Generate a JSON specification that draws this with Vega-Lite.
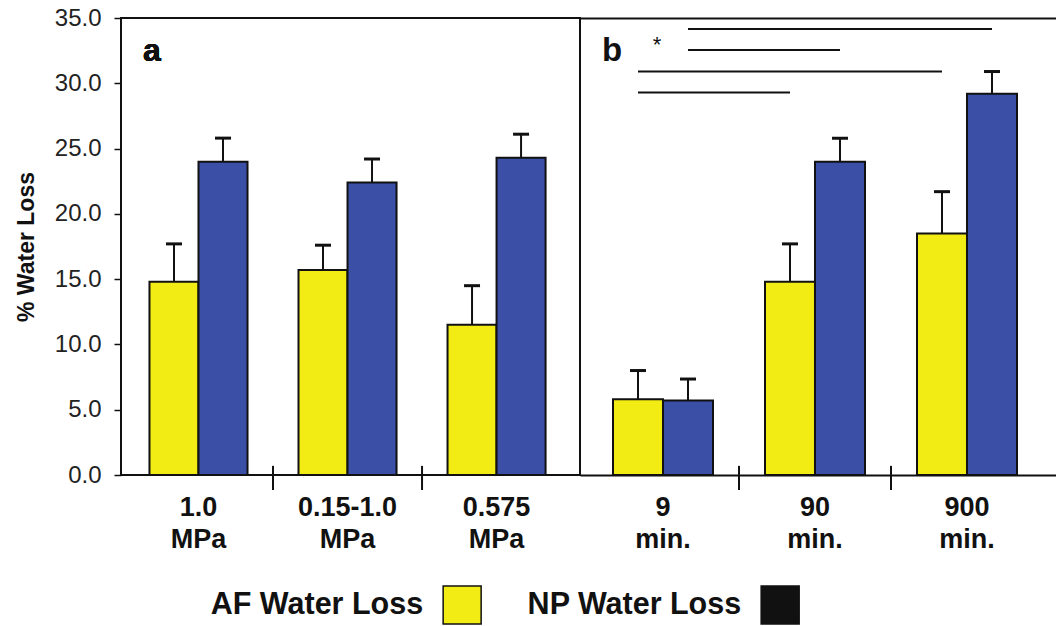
{
  "$schema": "https://vega.github.io/schema/vega-lite/v6.json",
  "padding": {"left": 14, "top": 5, "right": 0, "bottom": 0},
  "background": "white",
  "config": {
    "font": "Liberation Sans",
    "view": {"stroke": "#111111", "strokeWidth": 2},
    "axis": {"labelFont": "Liberation Sans", "titleFont": "Liberation Sans", "grid": false}
  },
  "datasets": {
    "barsA": [
      {"group": "1.0 MPa", "series": "AF", "value": 14.8, "upper": 17.7},
      {"group": "1.0 MPa", "series": "NP", "value": 24.0, "upper": 25.8},
      {"group": "0.15-1.0 MPa", "series": "AF", "value": 15.7, "upper": 17.6},
      {"group": "0.15-1.0 MPa", "series": "NP", "value": 22.4, "upper": 24.2},
      {"group": "0.575 MPa", "series": "AF", "value": 11.5, "upper": 14.5},
      {"group": "0.575 MPa", "series": "NP", "value": 24.3, "upper": 26.1}
    ],
    "barsB": [
      {"group": "9 min.", "series": "AF", "value": 5.8, "upper": 8.0},
      {"group": "9 min.", "series": "NP", "value": 5.7, "upper": 7.35},
      {"group": "90 min.", "series": "AF", "value": 14.8, "upper": 17.7},
      {"group": "90 min.", "series": "NP", "value": 24.0, "upper": 25.8},
      {"group": "900 min.", "series": "AF", "value": 18.5, "upper": 21.7},
      {"group": "900 min.", "series": "NP", "value": 29.2, "upper": 30.9}
    ],
    "sig": [
      {"pair": "p1", "group": "9 min.", "series": "NP", "level": 34.15},
      {"pair": "p1", "group": "900 min.", "series": "NP", "level": 34.15},
      {"pair": "p2", "group": "9 min.", "series": "NP", "level": 32.55},
      {"pair": "p2", "group": "90 min.", "series": "NP", "level": 32.55},
      {"pair": "p3", "group": "9 min.", "series": "AF", "level": 30.9},
      {"pair": "p3", "group": "900 min.", "series": "AF", "level": 30.9},
      {"pair": "p4", "group": "9 min.", "series": "AF", "level": 29.3},
      {"pair": "p4", "group": "90 min.", "series": "AF", "level": 29.3}
    ],
    "star": [
      {"group": "9 min.", "level": 32.4, "label": "*"}
    ],
    "legend": [
      {"series": "AF", "item": "AF Water Loss"},
      {"series": "NP", "item": "NP Water Loss"}
    ]
  },
  "resolve": {"scale": {"color": "independent", "fill": "independent"}},
  "spacing": 30,
  "vconcat": [
    {
      "spacing": 0,
      "bounds": "flush",
      "resolve": {"scale": {"xOffset": "independent", "x": "independent", "y": "independent"}},
      "hconcat": [
        {
          "width": 459,
          "height": 457,
          "data": {"name": "barsA"},
          "resolve": {"axis": {"x": "independent", "y": "independent"}},
          "layer": [
            {
              "mark": {"type": "bar", "stroke": "#111111", "strokeWidth": 2},
              "encoding": {
                "x": {"field": "group", "type": "nominal", "sort": null,
                  "scale": {"type": "band", "domain": ["1.0 MPa", "0.15-1.0 MPa", "0.575 MPa"], "paddingInner": 0, "paddingOuter": 0.04, "align": 0.25},
                  "axis": {"title": null, "domain": false, "ticks": false, "labelAngle": 0, "labelOverlap": false, "labelExpr": "split(datum.label, ' ')", "labelFontSize": 27, "labelFontWeight": "bold", "labelColor": "#111111", "labelLineHeight": 32, "labelPadding": 19}},
                "xOffset": {"field": "series", "type": "nominal", "scale": {"domain": ["AF", "NP"], "paddingInner": 0, "paddingOuter": 0.52}},
                "y": {"field": "value", "type": "quantitative",
                  "scale": {"domain": [0, 35], "nice": false},
                  "axis": {"values": [0, 5, 10, 15, 20, 25, 30, 35], "format": ".1f", "labelFontSize": 24, "labelColor": "#222222", "tickSize": 7, "tickColor": "#111111", "tickWidth": 1.5, "domain": false, "labelPadding": 13, "title": "% Water Loss", "titleFontSize": 23, "titleFontWeight": "bold", "titleColor": "#111111", "titlePadding": 16}},
                "color": {"field": "series", "type": "nominal", "scale": {"domain": ["AF", "NP"], "range": ["#F2EB14", "#3B4FA6"]}, "legend": null}
              }
            },
            {
              "mark": {"type": "rule", "stroke": "#111111", "strokeWidth": 2},
              "encoding": {
                "x": {"field": "group", "type": "nominal", "axis": null},
                "xOffset": {"field": "series", "type": "nominal"},
                "y": {"field": "value", "type": "quantitative", "axis": null},
                "y2": {"field": "upper"}
              }
            },
            {
              "mark": {"type": "tick", "color": "#111111", "orient": "horizontal", "size": 16, "thickness": 3, "opacity": 1},
              "encoding": {
                "x": {"field": "group", "type": "nominal", "axis": null},
                "xOffset": {"field": "series", "type": "nominal"},
                "y": {"field": "upper", "type": "quantitative", "axis": null}
              }
            },
            {
              "transform": [{"filter": "datum.series == 'AF' && datum.group != '1.0 MPa'"}],
              "mark": {"type": "rule", "stroke": "#111111", "strokeWidth": 2},
              "encoding": {
                "x": {"field": "group", "type": "nominal", "bandPosition": 0, "axis": null},
                "y": {"datum": -1.15, "type": "quantitative", "axis": null},
                "y2": {"datum": 0.7}
              }
            },
            {
              "mark": {"type": "text", "text": "a", "fontSize": 32, "fontWeight": "bold", "color": "#111111", "align": "left", "baseline": "alphabetic", "dx": 19},
              "encoding": {
                "x": {"datum": "1.0 MPa", "type": "nominal", "bandPosition": 0, "axis": null},
                "y": {"datum": 31.7, "type": "quantitative", "axis": null}
              }
            }
          ]
        },
        {
          "width": 476,
          "height": 457,
          "view": {"stroke": null},
          "resolve": {"axis": {"x": "independent", "y": "independent"}},
          "layer": [
            {
              "data": {"name": "barsB"},
              "mark": {"type": "bar", "stroke": "#111111", "strokeWidth": 2},
              "encoding": {
                "x": {"field": "group", "type": "nominal", "sort": null,
                  "scale": {"type": "band", "domain": ["9 min.", "90 min.", "900 min."], "paddingInner": 0, "paddingOuter": 0.0658, "align": 0.35},
                  "axis": {"title": null, "domain": true, "domainColor": "#111111", "domainWidth": 2, "ticks": false, "labelAngle": 0, "labelOverlap": false, "labelExpr": "split(datum.label, ' ')", "labelFontSize": 27, "labelFontWeight": "bold", "labelColor": "#111111", "labelLineHeight": 32, "labelPadding": 19}},
                "xOffset": {"field": "series", "type": "nominal", "scale": {"domain": ["AF", "NP"], "paddingInner": 0, "paddingOuter": 0.52}},
                "y": {"field": "value", "type": "quantitative", "scale": {"domain": [0, 35], "nice": false}, "axis": null},
                "color": {"field": "series", "type": "nominal", "scale": {"domain": ["AF", "NP"], "range": ["#F2EB14", "#3B4FA6"]}, "legend": null}
              }
            },
            {
              "data": {"name": "barsB"},
              "mark": {"type": "rule", "stroke": "#111111", "strokeWidth": 2},
              "encoding": {
                "x": {"field": "group", "type": "nominal",
                  "axis": {"orient": "top", "title": null, "labels": false, "ticks": false, "domain": true, "domainColor": "#111111", "domainWidth": 2}},
                "xOffset": {"field": "series", "type": "nominal"},
                "y": {"field": "value", "type": "quantitative", "axis": null},
                "y2": {"field": "upper"}
              }
            },
            {
              "data": {"name": "barsB"},
              "mark": {"type": "tick", "color": "#111111", "orient": "horizontal", "size": 16, "thickness": 3, "opacity": 1},
              "encoding": {
                "x": {"field": "group", "type": "nominal", "axis": null},
                "xOffset": {"field": "series", "type": "nominal"},
                "y": {"field": "upper", "type": "quantitative", "axis": null}
              }
            },
            {
              "data": {"name": "barsB"},
              "transform": [{"filter": "datum.series == 'AF' && datum.group != '9 min.'"}],
              "mark": {"type": "rule", "stroke": "#111111", "strokeWidth": 2},
              "encoding": {
                "x": {"field": "group", "type": "nominal", "bandPosition": 0, "axis": null},
                "y": {"datum": -1.15, "type": "quantitative", "axis": null},
                "y2": {"datum": 0.7}
              }
            },
            {
              "data": {"name": "sig"},
              "mark": {"type": "line", "stroke": "#111111", "strokeWidth": 2},
              "encoding": {
                "x": {"field": "group", "type": "nominal", "axis": null},
                "xOffset": {"field": "series", "type": "nominal"},
                "y": {"field": "level", "type": "quantitative", "axis": null},
                "detail": {"field": "pair", "type": "nominal"}
              }
            },
            {
              "data": {"name": "star"},
              "mark": {"type": "text", "fontSize": 22, "color": "#111111", "baseline": "alphabetic", "dx": -6},
              "encoding": {
                "x": {"field": "group", "type": "nominal", "axis": null},
                "y": {"field": "level", "type": "quantitative", "axis": null},
                "text": {"field": "label"}
              }
            },
            {
              "data": {"name": "star"},
              "mark": {"type": "text", "text": "b", "fontSize": 33, "fontWeight": "bold", "color": "#111111", "align": "left", "baseline": "alphabetic", "dx": 15},
              "encoding": {
                "x": {"datum": "9 min.", "type": "nominal", "bandPosition": 0, "axis": null},
                "y": {"datum": 31.7, "type": "quantitative", "axis": null}
              }
            }
          ]
        }
      ]
    },
    {
      "width": 900,
      "height": 40,
      "view": {"stroke": null},
      "data": {"name": "legend"},
      "layer": [
        {
          "mark": {"type": "text", "align": "right", "baseline": "middle", "dx": -39, "fontSize": 30.5, "fontWeight": "bold", "color": "#111111"},
          "encoding": {
            "x": {"field": "series", "type": "nominal", "scale": {"type": "band", "domain": ["AF", "NP"], "paddingInner": 0, "paddingOuter": 0.415, "align": 0.69}, "axis": null},
            "text": {"field": "item"}
          }
        },
        {
          "mark": {"type": "square", "size": 1444, "filled": true, "opacity": 1, "stroke": "#111111", "strokeWidth": 1.5},
          "encoding": {
            "x": {"field": "series", "type": "nominal", "axis": null},
            "fill": {"field": "series", "type": "nominal", "scale": {"domain": ["AF", "NP"], "range": ["#F2EB14", "#111111"]}, "legend": null}
          }
        }
      ]
    }
  ]
}
